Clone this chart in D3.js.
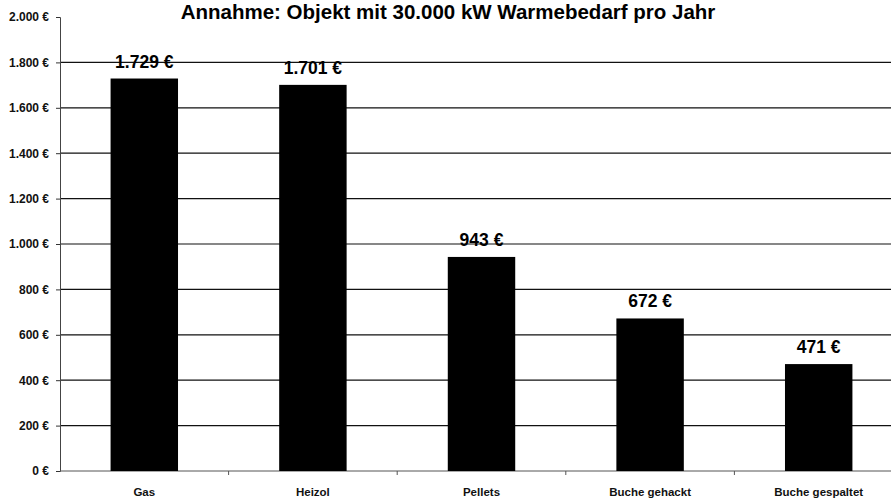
<!DOCTYPE html>
<html>
<head>
<meta charset="utf-8">
<script src="https://cdn.jsdelivr.net/npm/d3@7"></script>
<style>
  body { margin: 0; background: #fff; }
  svg { display: block; }
  .tick text { font-family: "Liberation Sans", Arial, sans-serif; }
</style>
</head>
<body>
<div id="chart"></div>
<script>
// data
var categories = ["Gas", "Heizol", "Pellets", "Buche gehackt", "Buche gespaltet"];
var costs = [1729, 1701, 943, 672, 471];
var yTicks = [0, 200, 400, 600, 800, 1000, 1200, 1400, 1600, 1800, 2000];
var title = "Annahme: Objekt mit 30.000 kW Warmebedarf pro Jahr";

var svgWidth = 891;
var svgHeight = 502;

var margin = { top: 17, right: -12, bottom: 31, left: 60 };
var width = svgWidth - margin.left - margin.right;
var height = svgHeight - margin.top - margin.bottom;

var euro = function(v) {
  return d3.format(",")(v).replace(/,/g, ".") + " €";
};

var svg = d3.select("#chart")
  .append("svg")
  .attr("width", svgWidth)
  .attr("height", svgHeight);

var chartGroup = svg.append("g")
  .attr("transform", `translate(${margin.left}, ${margin.top})`);

// scales
var xScale = d3.scaleBand()
  .domain(categories)
  .range([0, width])
  .paddingInner(0.6)
  .paddingOuter(0.3);

var yScale = d3.scaleLinear()
  .domain([0, 2000])
  .range([height, 0]);

// gridlines
chartGroup.selectAll("line.grid")
  .data(yTicks.filter(d => d > 0 && d < 2000))
  .enter()
  .append("line")
  .attr("class", "grid")
  .attr("x1", 0)
  .attr("x2", svgWidth - margin.left)
  .attr("y1", d => yScale(d))
  .attr("y2", d => yScale(d))
  .attr("stroke", "#111")
  .attr("stroke-width", 1.2);

// y axis
var leftAxis = d3.axisLeft(yScale)
  .tickValues(yTicks)
  .tickSize(4)
  .tickPadding(7)
  .tickFormat(euro);

var yAxisG = chartGroup.append("g").call(leftAxis);
yAxisG.select(".domain").attr("stroke", "#444");
yAxisG.selectAll(".tick line").attr("stroke", "#333");
yAxisG.selectAll(".tick text")
  .attr("font-size", 12)
  .attr("font-weight", "bold")
  .attr("fill", "#111");

// x axis
var xAxisG = chartGroup.append("g")
  .attr("transform", `translate(0, ${height})`);

xAxisG.append("line")
  .attr("x1", 0)
  .attr("x2", svgWidth - margin.left)
  .attr("stroke", "#555");

xAxisG.selectAll("line.sep")
  .data(categories.slice(1))
  .enter()
  .append("line")
  .attr("class", "sep")
  .attr("x1", d => xScale(d) - xScale.step() * xScale.paddingInner() / 2)
  .attr("x2", d => xScale(d) - xScale.step() * xScale.paddingInner() / 2)
  .attr("y1", 0)
  .attr("y2", 4)
  .attr("stroke", "#555");

xAxisG.selectAll("text.cat")
  .data(categories)
  .enter()
  .append("text")
  .attr("class", "cat")
  .attr("x", d => xScale(d) + xScale.bandwidth() / 2)
  .attr("y", 25)
  .attr("text-anchor", "middle")
  .attr("font-family", "Liberation Sans, Arial, sans-serif")
  .attr("font-size", 11.5)
  .attr("font-weight", "bold")
  .attr("fill", "#111")
  .text(d => d);

// bars
chartGroup.selectAll("rect.bar")
  .data(categories)
  .enter()
  .append("rect")
  .attr("class", "bar")
  .attr("x", d => xScale(d))
  .attr("y", (d, i) => yScale(costs[i]))
  .attr("width", xScale.bandwidth())
  .attr("height", (d, i) => height - yScale(costs[i]))
  .attr("fill", "#000");

// value labels
chartGroup.selectAll("text.val")
  .data(categories)
  .enter()
  .append("text")
  .attr("class", "val")
  .attr("x", d => xScale(d) + xScale.bandwidth() / 2)
  .attr("y", (d, i) => yScale(costs[i]) - 11)
  .attr("text-anchor", "middle")
  .attr("font-family", "Liberation Sans, Arial, sans-serif")
  .attr("font-size", 17.5)
  .attr("font-weight", "bold")
  .attr("fill", "#000")
  .text((d, i) => euro(costs[i]));

// title
svg.append("text")
  .attr("x", 448)
  .attr("y", 19)
  .attr("text-anchor", "middle")
  .attr("font-family", "Liberation Sans, Arial, sans-serif")
  .attr("font-size", 20.5)
  .attr("font-weight", "bold")
  .attr("fill", "#000")
  .text(title);
</script>
</body>
</html>
